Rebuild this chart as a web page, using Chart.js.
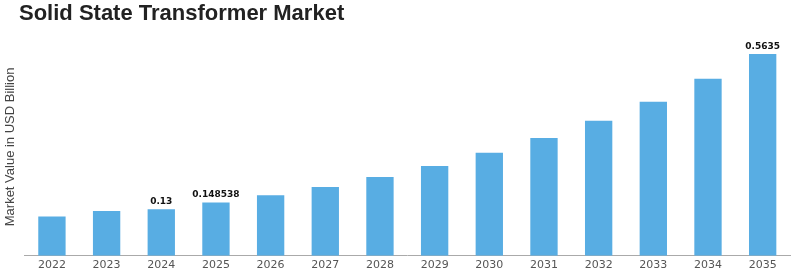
<!DOCTYPE html>
<html>
<head>
<meta charset="utf-8">
<script src="https://cdn.jsdelivr.net/npm/chart.js@4.4.0/dist/chart.umd.min.js"></script>
<style>
  html, body { margin: 0; padding: 0; background: #fff; }
  #wrap { width: 800px; height: 275px; position: relative; }
</style>
</head>
<body>
<div id="wrap"><canvas id="myChart" width="800" height="275"></canvas></div>
<script>
const years = ['2022', '2023', '2024', '2025', '2026', '2027', '2028', '2029', '2030', '2031', '2032', '2033', '2034', '2035'];
const marketValues = [0.110, 0.125, 0.13, 0.148538, 0.169, 0.192, 0.220, 0.251, 0.288, 0.329, 0.377, 0.430, 0.494, 0.5635];
const shownLabels = ['', '', '0.13', '0.148538', '', '', '', '', '', '', '', '', '', '0.5635'];
const chartTitle = 'Solid State Transformer Market';
const axisTitle = 'Market Value in USD Billion';

// title and value labels drawn on the canvas
const extras = {
    id: 'extras',
    afterDatasetsDraw(chart) {
        const ctx = chart.ctx;
        ctx.save();
        ctx.fillStyle = '#222';
        ctx.font = 'bold 22px "Liberation Sans", Arial, sans-serif';
        ctx.textAlign = 'left';
        ctx.textBaseline = 'alphabetic';
        ctx.fillText(chartTitle, 19, 20);

        const meta = chart.getDatasetMeta(0);
        ctx.font = 'bold 9px "DejaVu Sans", sans-serif';
        ctx.textAlign = 'center';
        ctx.textBaseline = 'bottom';
        ctx.fillStyle = '#111';
        meta.data.forEach((bar, i) => {
            if (shownLabels[i]) {
                ctx.fillText(shownLabels[i], bar.x, bar.y - 3);
            }
        });
        ctx.restore();
    }
};

const ctx = document.getElementById('myChart').getContext('2d');
const myChart = new Chart(ctx, {
    type: 'bar',
    data: {
        labels: years,
        datasets: [{
            data: marketValues,
            backgroundColor: '#58ade3',
            borderWidth: 0,
            barPercentage: 0.5,
            categoryPercentage: 1.0
        }]
    },
    options: {
        responsive: false,
        animation: false,
        layout: { padding: { top: 38, right: 10, left: 0, bottom: 0 } },
        plugins: {
            legend: { display: false },
            tooltip: { enabled: false }
        },
        scales: {
            x: {
                grid: { display: false, drawTicks: false },
                border: { display: true, color: '#aaa', width: 1 },
                ticks: {
                    color: '#555',
                    padding: 3,
                    font: { family: '"DejaVu Sans", sans-serif', size: 11 }
                }
            },
            y: {
                min: 0,
                max: 0.608,
                grid: { display: false, drawTicks: false },
                border: { display: false },
                ticks: { display: false },
                title: {
                    display: true,
                    text: axisTitle,
                    color: '#444',
                    padding: { top: 3, bottom: 6 },
                    font: { family: '"Liberation Sans", Arial, sans-serif', size: 13 }
                }
            }
        }
    },
    plugins: [extras]
});
</script>
</body>
</html>
